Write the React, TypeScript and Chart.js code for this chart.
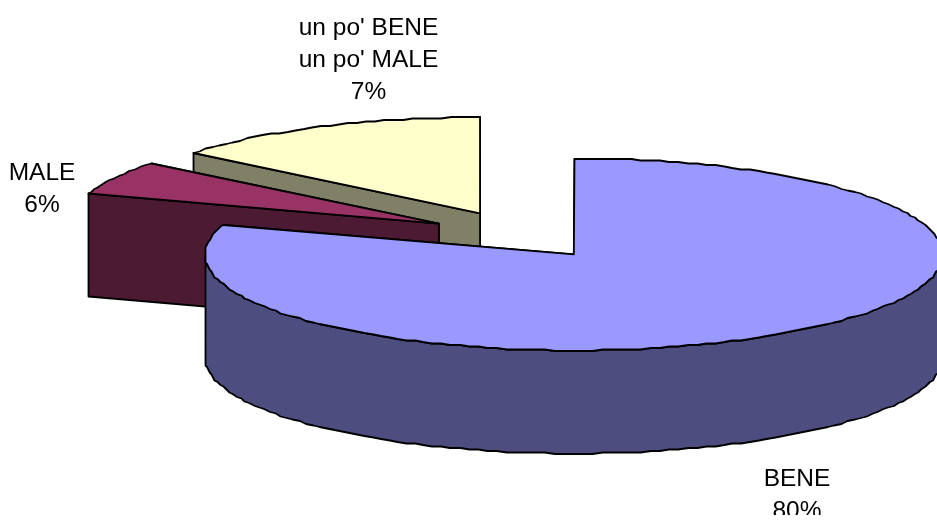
import React, { useEffect, useRef } from "react";
import { Chart, registerables } from "chart.js";

Chart.register(...registerables);

const categories = ["BENE", "MALE", "un po' BENE un po' MALE"];
// Shares as drawn in the picture: the slice angles read about 80 / 5.8 / 14.2.
const sliceShares = [80, 5.8, 14.2];
const topColors = ["#9999FF", "#993366", "#FFFFCC"];
const sideColors = ["#4D4D80", "#4D1A33", "#808066"];
const labelLines = [["BENE", "80%"], ["MALE", "6%"], ["un po' BENE", "un po' MALE", "7%"]];
const labelAnchors = [
  [797, 486],
  [42, 180],
  [368.5, 35],
];

const FLAT_X = 369 / 235;
const FLAT_Y = 96 / 235;
const DEPTH = 103 / 235;
const EXPLODE = 0.25;
const STEP = Math.PI / 120;
const GRID = 1.5;
const LINE_HEIGHT = 32;

const snap = (v: number) => Math.round(v / GRID) * GRID;

function arcPoints(cx: number, cy: number, rx: number, ry: number, a0: number, a1: number) {
  const angles = [a0];
  for (let k = Math.floor(a0 / STEP) + 1; k * STEP < a1 - 1e-6; k++) angles.push(k * STEP);
  angles.push(a1);
  return angles.map(
    (a) => [snap(cx + rx * Math.cos(a)), snap(cy + ry * Math.sin(a))] as [number, number]
  );
}

function polygon(ctx: CanvasRenderingContext2D, pts: [number, number][], fill: string) {
  ctx.beginPath();
  pts.forEach(([x, y], i) => (i ? ctx.lineTo(x, y) : ctx.moveTo(x, y)));
  ctx.closePath();
  ctx.fillStyle = fill;
  ctx.fill();
  ctx.stroke();
}

const pie3d = {
  id: "pie3d",
  beforeDatasetsDraw(chart: any) {
    const ctx: CanvasRenderingContext2D = chart.ctx;
    const arcs = chart.getDatasetMeta(0).data;
    ctx.save();
    ctx.strokeStyle = "#000";
    ctx.lineWidth = 1.8;
    ctx.lineJoin = "round";
    // back to front: yellow, purple, blue
    [2, 1, 0].forEach((i) => {
      const arc = arcs[i];
      const R = arc.outerRadius;
      const rx = R * FLAT_X;
      const ry = R * FLAT_Y;
      const d = R * DEPTH;
      const mid = (arc.startAngle + arc.endAngle) / 2;
      const cx = arc.x + Math.cos(mid) * EXPLODE * (R * 368 / 235);
      const cy = arc.y + Math.sin(mid) * EXPLODE * ry;
      const rim = arcPoints(cx, cy, rx, ry, arc.startAngle, arc.endAngle);
      const first = rim[0];
      const last = rim[rim.length - 1];
      // radial walls
      [last, first].forEach((p) => {
        polygon(ctx, [p, [cx, cy], [cx, cy + d], [p[0], p[1] + d]], sideColors[i]);
      });
      // curved wall: only the part of the rim on the near side
      const a0 = Math.max(arc.startAngle, 0);
      const a1 = Math.min(arc.endAngle, Math.PI);
      if (a1 > a0) {
        const near = arcPoints(cx, cy, rx, ry, a0, a1);
        const below = near.map(([x, y]) => [x, y + d] as [number, number]).reverse();
        polygon(ctx, [...near, ...below], sideColors[i]);
      }
      // top face
      polygon(ctx, [[cx, cy], ...rim], topColors[i]);
    });
    ctx.restore();

    // data labels
    ctx.save();
    ctx.beginPath();
    ctx.rect(0, 0, chart.width, 515);
    ctx.clip();
    ctx.fillStyle = "#000";
    ctx.font = '24.5px "Liberation Sans"';
    ctx.textAlign = "center";
    ctx.textBaseline = "alphabetic";
    labelLines.forEach((lines, i) => {
      lines.forEach((t, j) => {
        ctx.fillText(t, labelAnchors[i][0], labelAnchors[i][1] + j * LINE_HEIGHT);
      });
    });
    ctx.restore();
    return false;
  },
};

export default function App() {
  const ref = useRef<HTMLCanvasElement>(null);
  useEffect(() => {
    const chart = new Chart(ref.current!, {
      type: "pie",
      data: {
        labels: categories,
        datasets: [{ data: sliceShares, backgroundColor: topColors, borderWidth: 0 }],
      },
      options: {
        responsive: false,
        animation: false,
        events: [],
        layout: { padding: { left: 102.5, right: 0, top: 0, bottom: 50 } },
        plugins: { legend: { display: false }, tooltip: { enabled: false } },
      },
      plugins: [pie3d],
    } as any);
    return () => chart.destroy();
  }, []);
  return (
    <canvas
      ref={ref}
      width={937}
      height={520}
      style={{ position: "fixed", left: 0, top: 0, width: 937, height: 520, display: "block" }}
    />
  );
}
